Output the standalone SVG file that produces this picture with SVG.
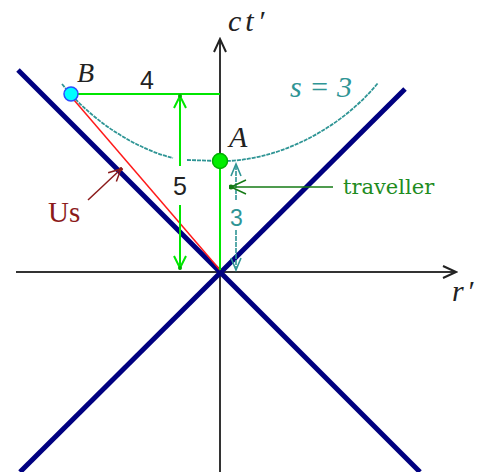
<svg xmlns="http://www.w3.org/2000/svg" width="489" height="472" viewBox="0 0 489 472">
<style>
.axis{stroke:#333;stroke-width:2;fill:none}
.cone{stroke:#000080;stroke-width:5;fill:none}
.hyp{stroke:#2f9595;stroke-width:1.8;fill:none;stroke-dasharray:4 1}
.grn{stroke:#00e600;stroke-width:2;fill:none}
.tea{stroke:#2f9595;stroke-width:1.6;fill:none;stroke-dasharray:5 1}
.lbl{font-family:"Liberation Serif","Times New Roman",serif;font-style:italic}
.num{font-family:"Liberation Sans",Arial,sans-serif}
</style>
<defs>
<marker id="ah-k" viewBox="-14 -8 16 16" refX="0" refY="0" markerWidth="16" markerHeight="16" markerUnits="userSpaceOnUse" orient="auto"><path d="M-13,-6 L0,0 L-13,6" fill="none" stroke="#222" stroke-width="2"/></marker>
<marker id="ah-g" viewBox="-14 -8 16 16" refX="0" refY="0" markerWidth="16" markerHeight="16" markerUnits="userSpaceOnUse" orient="auto"><path d="M-12,-6 L0,0 L-12,6" fill="none" stroke="#00e600" stroke-width="2"/><circle r="2" fill="#00b000"/></marker>
<marker id="ah-t" viewBox="-14 -8 16 16" refX="0" refY="0" markerWidth="16" markerHeight="16" markerUnits="userSpaceOnUse" orient="auto"><path d="M-12,-5 L0,0 L-12,5" fill="none" stroke="#2f9595" stroke-width="1.6"/></marker>
<marker id="ah-d" viewBox="-16 -9 18 18" refX="0" refY="0" markerWidth="18" markerHeight="18" markerUnits="userSpaceOnUse" orient="auto"><path d="M-15,-7 L0,0 L-15,7" fill="none" stroke="#157a15" stroke-width="1.5"/><circle r="2.5" fill="#157a15"/></marker>
<marker id="ah-r" viewBox="-14 -8 16 16" refX="0" refY="0" markerWidth="16" markerHeight="16" markerUnits="userSpaceOnUse" orient="auto"><path d="M-12,-6 L0,0 L-12,6" fill="none" stroke="#8b1a1a" stroke-width="1.5"/><circle r="2" fill="#8b1a1a"/></marker>
</defs>
<rect width="489" height="472" fill="#fff"/>
<g id="axes">
<line class="axis" x1="220" y1="472" x2="220" y2="39" marker-end="url(#ah-k)"/>
<line class="axis" x1="16" y1="272" x2="456" y2="272" marker-end="url(#ah-k)"/>
<text class="lbl" x="228" y="31" font-size="30" letter-spacing="4" fill="#222">ct′</text>
<text class="lbl" x="452" y="301" font-size="30" letter-spacing="3" fill="#222">r′</text>
</g>
<g id="light-cone">
<line class="cone" x1="18" y1="70" x2="420" y2="472"/>
<line class="cone" x1="405" y1="89" x2="20" y2="472"/>
</g>
<g id="hyperbola">
<path class="hyp" d="M62,84 C95,125 140,150 173,158"/>
<path class="hyp" d="M187,160 L220,161 C270,162 335,135 378,83"/>
<text class="lbl" x="290" y="97" font-size="30" fill="#2f9595">s = 3</text>
</g>
<g id="connectors">
<line x1="74" y1="100" x2="220" y2="270" stroke="#ff1a1a" stroke-width="1.5"/>
<line class="grn" x1="78" y1="94" x2="220" y2="94"/>
<line class="grn" x1="220" y1="168" x2="220" y2="270"/>
<line class="grn" x1="180" y1="166" x2="180" y2="96" marker-end="url(#ah-g)"/>
<line class="grn" x1="180" y1="205" x2="180" y2="268" marker-end="url(#ah-g)"/>
<line class="tea" x1="236" y1="200" x2="236" y2="164" marker-end="url(#ah-t)"/>
<line class="tea" x1="236" y1="230" x2="236" y2="270" marker-end="url(#ah-t)"/>
<line x1="333" y1="187" x2="231" y2="187" stroke="#157a15" stroke-width="1.5" marker-end="url(#ah-d)"/>
<line x1="88" y1="200" x2="121" y2="169" stroke="#8b1a1a" stroke-width="1.5" marker-end="url(#ah-r)"/>
</g>
<g id="node-B">
<circle cx="71" cy="94" r="7" fill="#00ffff" stroke="#2a4cff" stroke-width="1.5"/>
<text class="lbl" x="77" y="82" font-size="28" fill="#222">B</text>
</g>
<g id="node-A">
<circle cx="220" cy="161" r="7.5" fill="#00ee00" stroke="#00b000" stroke-width="1.5"/>
<text class="lbl" x="229" y="147" font-size="30" fill="#222">A</text>
</g>
<g id="labels">
<text class="num" x="140" y="89" font-size="25" fill="#222">4</text>
<text class="num" x="173" y="195" font-size="25" fill="#222">5</text>
<text class="num" x="230" y="226" font-size="23" fill="#2f9595">3</text>
<text x="343" y="194" font-family="DejaVu Serif,'Liberation Serif',serif" font-size="21" fill="#1e8c1e">traveller</text>
<text x="48" y="222" font-family="'Liberation Serif','Times New Roman',serif" font-size="29" fill="#8b1a1a">Us</text>
</g>
</svg>
